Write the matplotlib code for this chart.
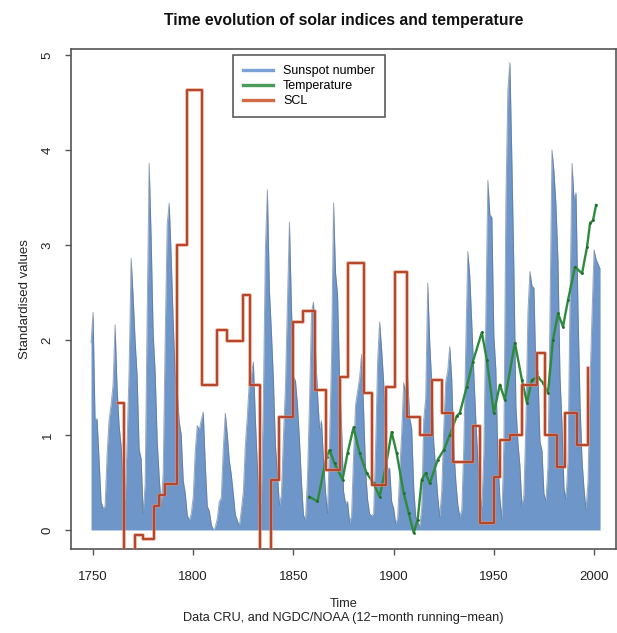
import matplotlib
matplotlib.use("Agg")
import matplotlib.pyplot as plt
from matplotlib.lines import Line2D

plt.rcParams['font.family'] = ['Liberation Sans', 'DejaVu Sans']

# ---- Data ----
sun_start = 1749
sunspot = [
    1.97, 2.29, 1.16, 1.17, 0.75, 0.30, 0.23, 0.25, 0.79, 1.16,   # 1749-1758
    1.32, 1.53, 2.16, 1.49, 1.10, 0.89, 0.51, 0.28, 0.92, 1.70,   # 1759-1768
    2.86, 2.46, 1.99, 1.62, 0.85, 0.75, 0.17, 0.48, 2.26, 3.86,   # 1769-1778
    3.07, 2.07, 1.66, 0.94, 0.56, 0.25, 0.59, 2.02, 3.22, 3.44,   # 1779-1788
    2.88, 2.19, 1.62, 1.46, 1.14, 1.00, 0.52, 0.39, 0.16, 0.10,   # 1789-1798
    0.17, 0.35, 0.83, 1.10, 1.05, 1.16, 1.24, 0.69, 0.25, 0.20,   # 1799-1808
    0.06, 0.00, 0.03, 0.12, 0.30, 0.34, 0.86, 1.23, 1.00, 0.73,   # 1809-1818
    0.58, 0.38, 0.16, 0.10, 0.04, 0.21, 0.40, 0.89, 1.21, 1.57,   # 1819-1828
    1.63, 1.77, 1.17, 0.67, 0.21, 0.32, 1.39, 2.96, 3.58, 2.52,   # 1829-1838
    2.09, 1.58, 0.90, 0.59, 0.26, 0.37, 0.98, 1.50, 2.40, 3.24,   # 1839-1848
    2.35, 1.62, 1.57, 1.32, 0.95, 0.50, 0.16, 0.10, 0.55, 1.34,   # 1849-1858
    2.29, 2.40, 1.88, 1.44, 1.07, 1.15, 0.74, 0.40, 0.18, 0.92,   # 1859-1868
    1.80, 3.44, 2.71, 2.48, 1.61, 1.09, 0.41, 0.28, 0.30, 0.08,   # 1869-1878
    0.15, 0.79, 1.32, 1.46, 1.60, 1.85, 1.27, 0.62, 0.32, 0.17,   # 1879-1888
    0.15, 0.17, 0.87, 1.78, 2.19, 1.90, 1.56, 1.02, 0.64, 0.65,   # 1889-1898
    0.30, 0.23, 0.07, 0.12, 0.60, 1.02, 1.55, 1.45, 1.60, 1.18,   # 1899-1908
    1.07, 0.45, 0.14, 0.09, 0.03, 0.23, 1.16, 1.39, 2.60, 1.97,   # 1909-1918
    1.55, 0.92, 0.64, 0.35, 0.14, 0.41, 1.08, 1.56, 1.68, 1.93,   # 1919-1928
    1.58, 0.87, 0.52, 0.27, 0.14, 0.21, 0.88, 1.94, 2.93, 2.67,   # 1929-1938
    2.17, 1.65, 1.16, 0.75, 0.40, 0.23, 0.81, 2.26, 3.68, 3.32,   # 1939-1948
    3.29, 2.05, 1.69, 0.77, 0.34, 0.11, 0.93, 3.46, 4.64, 4.92,   # 1949-1958
    3.88, 2.74, 1.31, 0.92, 0.68, 0.25, 0.37, 1.15, 2.29, 2.72,   # 1959-1968
    2.57, 2.55, 1.62, 1.68, 0.93, 0.84, 0.38, 0.31, 0.67, 2.26,   # 1969-1978
    4.00, 3.77, 3.42, 2.83, 1.62, 1.12, 0.44, 0.33, 0.72, 2.44,   # 1979-1988
    3.86, 3.48, 3.55, 2.30, 1.33, 0.73, 0.43, 0.21, 0.52, 1.57,   # 1989-1998
    2.28, 2.95, 2.85, 2.80, 2.75,                                 # 1999-2003
]
sun_years = list(range(sun_start, sun_start + len(sunspot)))

temp_years = [1858, 1862, 1866.5, 1868, 1870.5, 1874.5, 1877, 1880, 1883, 1886.5,
              1890, 1893, 1896, 1899, 1901.5, 1905, 1907.5, 1910, 1912, 1914,
              1916, 1918, 1922, 1925, 1928, 1931.5, 1933, 1936.5, 1939.5, 1944,
              1946.5, 1950, 1953, 1955.5, 1960.5, 1964, 1966.5, 1969, 1972, 1974.5,
              1977, 1979.5, 1982, 1984.5, 1987, 1990.5, 1994, 1996.5, 1998, 1999.5,
              2001]
temperature = [0.35, 0.30, 0.77, 0.84, 0.70, 0.53, 0.81, 1.08, 0.81, 0.60,
               0.49, 0.35, 0.66, 1.03, 0.81, 0.39, 0.18, -0.03, 0.11, 0.53,
               0.60, 0.49, 0.74, 0.84, 1.00, 1.20, 1.23, 1.51, 1.77, 2.08,
               1.79, 1.23, 1.53, 1.37, 1.97, 1.58, 1.34, 1.58, 1.61, 1.55,
               1.44, 2.00, 2.28, 2.14, 2.42, 2.77, 2.70, 2.98, 3.23, 3.26,
               3.42]

scl_years = [1762.5, 1765.5, 1771, 1775, 1780.5, 1783, 1786, 1792, 1797, 1804.5,
             1812, 1817, 1825, 1828.5, 1833.5, 1839, 1843, 1850, 1855, 1861,
             1866, 1873, 1877, 1885, 1889, 1896, 1900.5, 1906.5, 1913, 1919,
             1924, 1929.5, 1939.5, 1943, 1950, 1953, 1958, 1964, 1971.5, 1975.5,
             1981.5, 1985.5, 1991.5, 1997]
scl = [1.34, -0.60, -0.05, -0.10, 0.25, 0.37, 0.48, 3.00, 4.63, 1.53,
       2.10, 1.99, 2.47, 1.53, -0.60, 0.53, 1.19, 2.19, 2.30, 1.47,
       0.63, 1.61, 2.81, 1.44, 0.47, 1.51, 2.72, 1.19, 1.00, 1.58,
       1.23, 0.72, 1.09, 0.07, 0.56, 0.95, 1.00, 1.53, 1.86, 1.00,
       0.66, 1.23, 0.89, 1.70]

x_ticks = [1750, 1800, 1850, 1900, 1950, 2000]
y_ticks = [0, 1, 2, 3, 4, 5]

# ---- Figure ----
W, H = 617, 633
fig = plt.figure(figsize=(W / 100, H / 100), dpi=100)
L, R, T, B = 71, 615.5, 49, 548.5
ax = fig.add_axes([L / W, 1 - B / H, (R - L) / W, (B - T) / H])

blue = '#6f96c9'
green = '#2e8a3c'
red = '#b3452b'

ax.fill_between(sun_years, 0, sunspot, color=blue, linewidth=0, zorder=1)
ax.plot(sun_years, sunspot, color='#58708f', linewidth=0.7, alpha=0.6, zorder=2)
ax.plot(temp_years, temperature, color=green, linewidth=1.7, zorder=3,
        marker='o', markersize=2, markerfacecolor='#1f6b2c', markeredgewidth=0)
ax.step(scl_years, scl, where='post', color='#e58a66', linewidth=2.6, zorder=4, alpha=0.7)
ax.step(scl_years, scl, where='post', color=red, linewidth=1.4, zorder=5)

ax.set_xlim(1739, 2010.7)
ax.set_ylim(-0.195, 5.063)
ax.set_xticks(x_ticks)
ax.set_yticks(y_ticks)
ax.set_xticklabels([str(v) for v in x_ticks], fontsize=9.5, color='#222222')
ax.set_yticklabels([str(v) for v in y_ticks], fontsize=9.5, color='#222222',
                   rotation=90, va='center')
ax.tick_params(direction='out', length=4.5, width=1.0, color='#555555')
ax.tick_params(axis='x', pad=12)
ax.tick_params(axis='y', pad=8)
for s in ax.spines.values():
    s.set_color('#555555')
    s.set_linewidth(1.2)

ax.set_ylabel('Standardised values', fontsize=9.5, labelpad=8, color='#222222')

fig.text(0.5 * (L + R) / W, 1 - 20 / H,
         'Time evolution of solar indices and temperature',
         ha='center', va='center', fontsize=11.3, fontweight='bold', color='#111111')
fig.text(0.5 * (L + R) / W, 1 - 604 / H, 'Time', ha='center', va='center',
         fontsize=9.2, color='#222222')
fig.text(0.5 * (L + R) / W, 1 - 618 / H,
         'Data CRU, and NGDC/NOAA (12\u2212month running\u2212mean)',
         ha='center', va='center', fontsize=9.2, color='#222222')

handles = [Line2D([], [], color='#7aa2d6', linewidth=2.4),
           Line2D([], [], color='#4a9a5a', linewidth=2.4),
           Line2D([], [], color='#d36a48', linewidth=2.4)]
leg = ax.legend(handles, ['Sunspot number', 'Temperature', 'SCL'],
                loc='upper left', bbox_to_anchor=(233 / W, 1 - 55 / H),
                bbox_transform=fig.transFigure, fontsize=9, frameon=True,
                fancybox=False, handlelength=2.4, handletextpad=0.8,
                borderpad=0.8, labelspacing=0.25, borderaxespad=0)
leg.get_frame().set_edgecolor('#333333')
leg.get_frame().set_linewidth(1.2)
leg.set_zorder(10)

fig.savefig('out.png', dpi=100)
